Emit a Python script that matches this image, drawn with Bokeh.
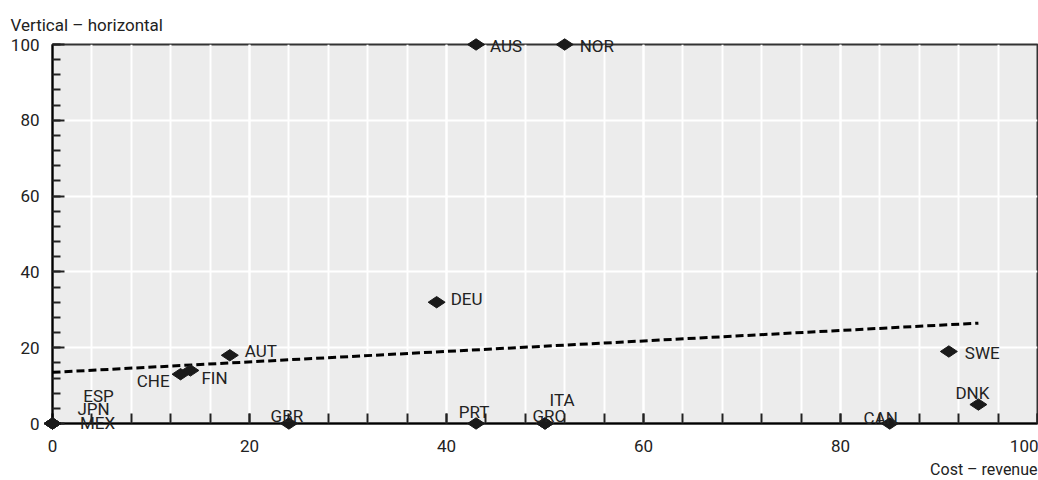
from bokeh.plotting import figure
from bokeh.models import Range1d, FixedTicker, ColumnDataSource
from bokeh.embed import file_html
from bokeh.resources import INLINE
from bokeh.core.properties import value
import numpy as np

# ---- data ----
countries = ["MEX", "JPN", "ESP", "GBR", "PRT", "GRC", "ITA", "CAN",
             "DNK", "SWE", "DEU", "AUS", "NOR", "AUT", "CHE", "FIN"]
cost_revenue = [0, 0, 0, 24, 43, 50, 50, 85, 94, 91, 39, 43, 52, 18, 13, 14]
vertical_horizontal = [0, 0, 0, 0, 0, 0, 0, 0, 5, 19, 32, 100, 100, 18, 13, 14]
x_ticks = [0, 20, 40, 60, 80, 100]
y_ticks = [0, 20, 40, 60, 80, 100]
minor_ticks = list(range(0, 101, 4))
x_title = "Cost – revenue"
y_title = "Vertical – horizontal"

# ---- label placement (style: align, baseline, dx px, dy px) ----
label_layout = {
    "MEX": ("center", "alphabetic", 45, -1),
    "JPN": ("center", "alphabetic", 41, -15),
    "ESP": ("center", "alphabetic", 46, -28),
    "GBR": ("center", "alphabetic", -2, -8),
    "PRT": ("center", "alphabetic", -2, -12),
    "GRC": ("center", "alphabetic", 4, -8),
    "ITA": ("center", "alphabetic", 17, -24),
    "CAN": ("center", "alphabetic", -9, -6),
    "DNK": ("center", "alphabetic", -6, -12),
    "SWE": ("left", "middle", 16, 2),
    "DEU": ("left", "middle", 14, -3),
    "AUS": ("left", "middle", 14, 1),
    "NOR": ("left", "middle", 15, 1),
    "AUT": ("left", "middle", 15, -4),
    "CHE": ("right", "middle", -11, 7),
    "FIN": ("left", "middle", 11, 8),
}

TEXT = "#222222"
FONT = "Roboto"

src = ColumnDataSource(dict(
    x=cost_revenue, y=vertical_horizontal, name=countries,
    align=[label_layout[c][0] for c in countries],
    baseline=[label_layout[c][1] for c in countries],
    dx=[label_layout[c][2] for c in countries],
    dy=[label_layout[c][3] for c in countries],
))

p = figure(width=1038, height=480, output_backend="svg", toolbar_location=None,
           x_range=Range1d(0, 100), y_range=Range1d(0, 100),
           min_border_left=52, min_border_right=1, min_border_top=44,
           min_border_bottom=57)

p.background_fill_color = "#ececec"
p.border_fill_color = "white"
p.outline_line_color = "#333333"
p.outline_line_width = 2

# axes
for ax in (p.xaxis[0], p.yaxis[0]):
    ax.axis_line_color = "black"
    ax.axis_line_width = 2
    ax.major_tick_line_color = TEXT
    ax.minor_tick_line_color = TEXT
    ax.major_tick_line_width = 2
    ax.minor_tick_line_width = 2
    ax.major_tick_out = 0
    ax.minor_tick_out = 0
    ax.major_label_text_font = FONT
    ax.major_label_text_font_size = "17px"
    ax.major_label_text_color = TEXT

p.xaxis.ticker = FixedTicker(ticks=x_ticks, minor_ticks=minor_ticks)
p.yaxis.ticker = FixedTicker(ticks=y_ticks, minor_ticks=minor_ticks)
p.xaxis.major_tick_in = 10
p.xaxis.minor_tick_in = 10
p.yaxis.major_tick_in = 12
p.yaxis.minor_tick_in = 8
p.xaxis.major_label_standoff = 16
p.yaxis.major_label_standoff = 13

# grid
p.xgrid.grid_line_color = "white"
p.xgrid.grid_line_width = 2
p.xgrid.minor_grid_line_color = "white"
p.xgrid.minor_grid_line_width = 2
p.ygrid.grid_line_color = "white"
p.ygrid.grid_line_width = 2

# axis titles, anchored to the frame corners (overlay level: not clipped)
x_lo, x_hi = x_ticks[0], x_ticks[-1]
y_lo, y_hi = y_ticks[0], y_ticks[-1]
p.text(x=[x_lo], y=[y_hi], text=[y_title], x_offset=-42, y_offset=-20,
       text_align="left", text_baseline="middle", text_font=value(FONT),
       text_font_size="17px", text_color=TEXT, level="overlay")
p.text(x=[x_hi], y=[y_lo], text=[x_title], x_offset=0, y_offset=46,
       text_align="right", text_baseline="middle", text_font=value(FONT),
       text_font_size="16px", text_color=TEXT, level="overlay")

# trend line (OLS fit)
slope, intercept = np.polyfit(cost_revenue, vertical_horizontal, 1)
tx = [min(cost_revenue), max(cost_revenue)]
ty = [intercept + slope * v for v in tx]
p.line(tx, ty, line_color="black", line_width=3, line_dash="8 4")

# points
p.scatter("x", "y", source=src, marker="diamond", size=17, angle=np.pi / 2,
          fill_color="#1a1a1a", line_color="#1a1a1a", level="overlay")

p.text("x", "y", text="name", source=src, text_align="align",
       text_baseline="baseline", x_offset="dx", y_offset="dy",
       text_font=value(FONT), text_font_size="17px", text_color=TEXT,
       level="overlay")

open("out.html", "w").write(file_html(p, INLINE))
